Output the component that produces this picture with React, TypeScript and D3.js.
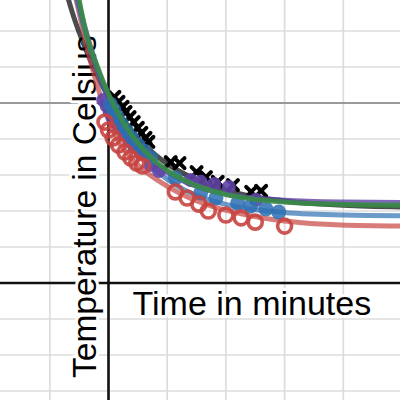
import React from "react";
import * as d3 from "d3";

// Fitted curves (time in minutes, temperature in °C)
const blackCurveT = [-3.4, -3, -2, -1, 0, 1, 2, 3, 4, 5, 6, 8, 10, 12, 15, 20, 25.5];
const blackCurveY = [78.6, 74.3, 65.4, 57.9, 51.7, 46.5, 42.2, 38.6, 35.6, 33.1, 31.1, 27.9, 25.8, 24.2, 22.8, 21.6, 21.1];

const redCurveT = [-2.75, -2.5, -2, -1.4, -0.9, -0.3, 0, 0.6, 1.5, 2.7, 4.4, 6.2, 8.7, 11.3, 15, 19.8, 25.5];
const redCurveY = [78.6, 75.0, 67.8, 60.0, 54.2, 48.1, 45.3, 40.8, 36.4, 32.2, 28.1, 24.7, 21.4, 19.2, 17.2, 16.1, 15.8];

const blueCurveT = [-2.7, -2, -1, 0, 1, 2, 3, 4, 5, 6, 8, 10, 12, 15, 20, 25.5];
const blueCurveY = [78.8, 69.9, 59.4, 51.0, 44.3, 39.0, 34.8, 31.5, 28.8, 26.7, 23.7, 21.85, 20.65, 19.6, 18.9, 18.7];

const purpleCurveT = [-2.6, -2, -1, 0, 1, 2, 3, 4, 5, 6, 8, 10, 12, 15, 20, 25.5];
const purpleCurveY = [78.8, 70.9, 60.2, 51.8, 45.3, 40.2, 36.2, 33.15, 30.75, 28.9, 26.3, 24.7, 23.8, 23.0, 22.5, 22.35];

const greenCurveT = [-2.5, -2, -1, 0, 1, 2, 3, 4, 5, 6, 8, 10, 12, 15, 20, 25.5];
const greenCurveY = [78.6, 70.6, 60.5, 52.5, 46.1, 41.0, 37.0, 33.8, 31.3, 29.3, 26.4, 24.6, 23.5, 22.5, 21.8, 21.6];

// Measured points
const blackPtT = [0.5, 0.85, 1.2, 1.45, 1.8, 2.15, 2.5, 2.8, 3.15, 3.4, 5.3, 6.05, 7.5, 8.3, 9.3, 10.6, 12.15, 13.0];
const blackPtY = [51.7, 50.3, 48.9, 47.5, 46.1, 44.7, 43.1, 41.7, 40.3, 39.2, 33.6, 33.3, 30.8, 29.4, 28.1, 27.2, 25.3, 25.6];

const purplePtT = [-0.45, -0.15, 0.1, 0.35, 0.7, 1.05, 1.4, 1.8, 2.2, 2.75, 3.6, 4.3, 7.0, 7.85, 9.0, 10.25, 12.55];
const purplePtY = [50.8, 49.2, 47.5, 46.1, 44.4, 42.8, 41.1, 39.4, 37.8, 36.1, 32.8, 31.1, 28.6, 28.1, 27.5, 26.7, 23.1];

const bluePtT = [0.15, 0.45, 0.75, 1.1, 1.55, 2.0, 2.5, 3.0, 3.6, 5.7, 7.85, 9.15, 11.0, 12.1, 13.4, 14.5];
const bluePtY = [49.7, 48.1, 46.1, 44.2, 42.2, 40.3, 38.3, 36.7, 34.7, 29.2, 25.0, 23.6, 22.2, 21.4, 20.6, 19.7];

const redPtT = [-0.3, 0, 0.4, 0.85, 1.4, 1.9, 2.4, 2.9, 5.7, 6.7, 7.7, 8.5, 10.0, 11.3, 12.5, 15.0];
const redPtY = [44.7, 42.5, 40.3, 38.3, 36.4, 34.7, 33.3, 32.5, 25.3, 23.6, 21.9, 20.0, 18.9, 18.1, 16.9, 15.8];

const xGridTicks = [-10, -5, 0, 5, 10, 15, 20, 25];
const yGridTicks = [-30, -20, -10, 0, 10, 20, 30, 40, 50, 60, 70, 80];
const yMajorTicks = [50];

const xLabel = "Time in minutes";
const yLabel = "Temperature in Celsius";

const RED = "#c74440";
const BLUE = "#2d70b3";
const GREEN = "#388c46";
const PURPLE = "#6042a6";
const BLACK = "#000000";

export default function App() {
  const W = 400, H = 400;
  const x = d3.scaleLinear().domain([0, 25]).range([108.5, 108.5 + 5 * 58.7]);
  const y = d3.scaleLinear().domain([0, 50]).range([283, 103]);

  const line = d3
    .line<[number, number]>()
    .x((d) => x(d[0]))
    .y((d) => y(d[1]))
    .curve(d3.curveMonotoneX);

  const zip = (a: number[], b: number[]) => a.map((v, i) => [v, b[i]] as [number, number]);

  const curve = (ts: number[], ys: number[], color: string, op = 0.8) => (
    <path d={line(zip(ts, ys)) || ""} fill="none" stroke={color} strokeWidth={5} strokeOpacity={op} strokeLinecap="round" />
  );

  const halo = { stroke: "white", strokeWidth: 6, paintOrder: "stroke" as const, strokeLinejoin: "round" as const };

  return (
    <svg width={W} height={H} style={{ position: "absolute", left: 0, top: 0, background: "white" }}>
      <rect width={W} height={H} fill="white" />
      {xGridTicks.map((t) => (
        <line key={"gx" + t} x1={x(t)} x2={x(t)} y1={0} y2={H} stroke="#dcdcdc" strokeWidth={1.7} />
      ))}
      {yGridTicks.map((t) => (
        <line key={"gy" + t} x1={0} x2={W} y1={y(t)} y2={y(t)} stroke="#dcdcdc" strokeWidth={1.7} />
      ))}
      {yMajorTicks.map((t) => (
        <line key={"gm" + t} x1={0} x2={W} y1={y(t)} y2={y(t)} stroke="#999" strokeWidth={2} />
      ))}
      <line x1={0} x2={W} y1={y(0)} y2={y(0)} stroke="#111" strokeWidth={2.6} />
      <line x1={x(0)} x2={x(0)} y1={0} y2={H} stroke="#111" strokeWidth={2.6} />

      <text x={132.5} y={315} fontFamily="Liberation Sans, Arial, sans-serif" fontSize={34} fill="#000" {...halo}>
        {xLabel}
      </text>
      <text
        transform={`translate(96,378) rotate(-90)`}
        fontFamily="Liberation Sans, Arial, sans-serif"
        fontSize={33.5}
        fill="#000"
        {...halo}
      >
        {yLabel}
      </text>

      {curve(blackCurveT, blackCurveY, BLACK, 0.7)}
      {curve(redCurveT, redCurveY, RED, 0.7)}
      {curve(blueCurveT, blueCurveY, BLUE, 0.7)}

      {zip(blackPtT, blackPtY).map((d, i) => {
        const cx = x(d[0]), cy = y(d[1]), s = 5;
        return (
          <g key={"bp" + i} stroke="#000" strokeWidth={4} strokeLinecap="round">
            <line x1={cx - s} y1={cy - s} x2={cx + s} y2={cy + s} />
            <line x1={cx - s} y1={cy + s} x2={cx + s} y2={cy - s} />
          </g>
        );
      })}
      {zip(purplePtT, purplePtY).map((d, i) => (
        <circle key={"pp" + i} cx={x(d[0])} cy={y(d[1])} r={7} fill={PURPLE} fillOpacity={0.9} />
      ))}
      {curve(purpleCurveT, purpleCurveY, PURPLE, 0.8)}
      {zip(bluePtT, bluePtY).map((d, i) => (
        <circle key={"blp" + i} cx={x(d[0])} cy={y(d[1])} r={7.5} fill={BLUE} fillOpacity={0.85} />
      ))}
      {zip(redPtT, redPtY).map((d, i) => (
        <circle key={"rp" + i} cx={x(d[0])} cy={y(d[1])} r={7} fill="none" stroke={RED} strokeWidth={3.6} strokeOpacity={0.9} />
      ))}
      {curve(greenCurveT, greenCurveY, GREEN, 0.9)}
    </svg>
  );
}
